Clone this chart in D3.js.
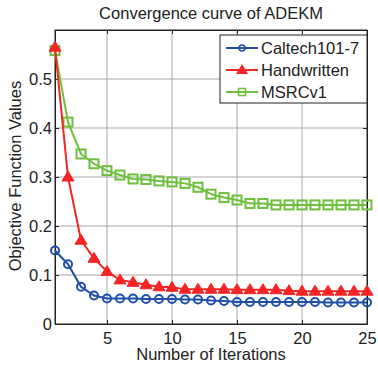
<!DOCTYPE html>
<html><head><meta charset="utf-8">
<script src="https://cdn.jsdelivr.net/npm/d3@7"></script>
<style>body{margin:0;background:#fff}svg{display:block}text{font-family:"Liberation Sans",Arial,sans-serif;fill:#222}</style>
</head><body><div id="chart"></div>
<script>
const iterations = d3.range(1, 26);
const caltech = [0.150,0.122,0.076,0.058,0.052,0.052,0.052,0.051,0.051,0.051,0.050,0.050,0.048,0.047,0.045,0.045,0.045,0.045,0.045,0.045,0.045,0.044,0.044,0.044,0.044];
const handwritten = [0.565,0.300,0.171,0.134,0.107,0.090,0.085,0.080,0.076,0.075,0.071,0.071,0.071,0.071,0.070,0.070,0.070,0.070,0.068,0.067,0.067,0.067,0.067,0.067,0.067];
const msrc = [0.558,0.412,0.347,0.327,0.313,0.304,0.296,0.295,0.292,0.290,0.287,0.279,0.265,0.258,0.253,0.246,0.246,0.243,0.243,0.243,0.243,0.243,0.243,0.243,0.243];
const xTicks = [5,10,15,20,25];
const yTicks = [0,0.1,0.2,0.3,0.4,0.5];
const seriesNames = ["Caltech101-7","Handwritten","MSRCv1"];
const colors = ["#1f4faa","#f42525","#6dbf3c"];

const W=378,H=366, L=55, R=367, T=30, B=324;
const svg = d3.select("#chart").append("svg").attr("width",W).attr("height",H);
const x = d3.scaleLinear().domain([1,25]).range([L,R]);
const y = d3.scaleLinear().domain([0,0.6]).range([B,T]);

// grid
const g = svg.append("g");
g.selectAll(".gx").data(xTicks.slice(0,-1)).join("line").attr("x1",d=>x(d)).attr("x2",d=>x(d)).attr("y1",T).attr("y2",B).attr("stroke","#a8a8a8").attr("stroke-width",1);
g.selectAll(".gy").data(yTicks.slice(1)).join("line").attr("y1",d=>y(d)).attr("y2",d=>y(d)).attr("x1",L).attr("x2",R).attr("stroke","#a8a8a8").attr("stroke-width",1);

// axes
svg.append("g").attr("transform",`translate(0,${B})`).call(d3.axisBottom(x).tickValues(xTicks).tickSizeInner(-4).tickSizeOuter(0).tickPadding(8));
svg.append("g").attr("transform",`translate(${L},0)`).call(d3.axisLeft(y).tickValues(yTicks).tickFormat(d=>d===0?"0":d3.format(".1f")(d)).tickSizeInner(-4).tickSizeOuter(0).tickPadding(3));
svg.append("g").attr("transform",`translate(0,${T})`).call(d3.axisTop(x).tickValues(xTicks).tickSizeInner(-4).tickSizeOuter(0).tickFormat(""));
svg.append("g").attr("transform",`translate(${R},0)`).call(d3.axisRight(y).tickValues(yTicks).tickSizeInner(-4).tickSizeOuter(0).tickFormat(""));
svg.selectAll(".domain").attr("stroke","#222");
svg.selectAll(".tick line").attr("stroke","#222");
svg.selectAll(".tick text").attr("font-size",16.5).attr("fill","#222").attr("font-family","Liberation Sans, Arial, sans-serif");
svg.append("rect").attr("x",L).attr("y",T).attr("width",R-L).attr("height",B-T).attr("fill","none").attr("stroke","#222").attr("stroke-width",1);

const data = [caltech, handwritten, msrc];
const line = d3.line().x((d,i)=>x(iterations[i])).y(d=>y(d));
[2,1,0].forEach(k=>{
  const vals=data[k];
  svg.append("path").datum(vals).attr("d",line).attr("fill","none").attr("stroke",colors[k]).attr("stroke-width",2);
  const mg = svg.append("g");
  vals.forEach((v,i)=>{
    const cx=x(iterations[i]), cy=y(v);
    if(k===0) mg.append("circle").attr("cx",cx).attr("cy",cy).attr("r",4).attr("fill","none").attr("stroke",colors[k]).attr("stroke-width",2);
    else if(k===1) mg.append("path").attr("d",`M${cx},${cy-6}L${cx+6},${cy+4}L${cx-6},${cy+4}Z`).attr("fill",colors[k]).attr("stroke",colors[k]).attr("stroke-width",1);
    else mg.append("rect").attr("x",cx-4.5).attr("y",cy-4.5).attr("width",9).attr("height",9).attr("fill","none").attr("stroke",colors[k]).attr("stroke-width",2);
  });
});

// legend
const lg = svg.append("g");
lg.append("rect").attr("x",220).attr("y",35).attr("width",147).attr("height",68).attr("fill","#fff").attr("stroke","#222").attr("stroke-width",1);
seriesNames.forEach((n,k)=>{
  const yy=48+k*22, cx=242;
  lg.append("line").attr("x1",226).attr("x2",258).attr("y1",yy).attr("y2",yy).attr("stroke",colors[k]).attr("stroke-width",2);
  if(k===0) lg.append("circle").attr("cx",cx).attr("cy",yy).attr("r",3).attr("fill","none").attr("stroke",colors[k]).attr("stroke-width",1.5);
  else if(k===1) lg.append("path").attr("d",`M${cx},${yy-6}L${cx+6},${yy+4}L${cx-6},${yy+4}Z`).attr("fill",colors[k]);
  else lg.append("rect").attr("x",cx-3.5).attr("y",yy-3.5).attr("width",7).attr("height",7).attr("fill","none").attr("stroke",colors[k]).attr("stroke-width",1.5);
  lg.append("text").attr("x",261).attr("y",yy+6).attr("font-size",16.5).text(n);
});

// titles
svg.append("text").attr("x",211).attr("y",19).attr("text-anchor","middle").attr("font-size",16.5).text("Convergence curve of ADEKM");
svg.append("text").attr("x",211).attr("y",360).attr("text-anchor","middle").attr("font-size",16.5).text("Number of Iterations");
svg.append("text").attr("transform","translate(21,176) rotate(-90)").attr("text-anchor","middle").attr("font-size",16.5).text("Objective Function Values");
</script></body></html>
